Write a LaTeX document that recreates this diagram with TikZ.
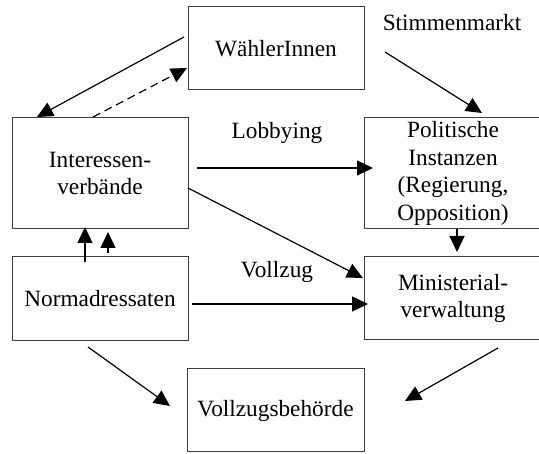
\documentclass[tikz,border=0pt]{standalone}
\usepackage{fontspec}
\setmainfont{Liberation Serif}
\usetikzlibrary{arrows.meta}
\begin{document}
\begin{tikzpicture}[x=1pt,y=-1pt,
  box/.style={draw=black!75, line width=1pt, rectangle, inner sep=0pt, align=center,
    font=\fontsize{23.3}{27.7}\selectfont},
  lbl/.style={inner sep=0pt, font=\fontsize{23.3}{27.7}\selectfont},
  arr/.style={-{Triangle[length=16pt,width=15pt]}, line width=1.2pt},
  dsh/.style={arr, dash pattern=on 8pt off 5pt}]
\useasboundingbox (0,0) rectangle (539,454);
\fill[white] (0,0) rectangle (539,454);
% boxes
\node[box, minimum width=176pt, minimum height=83pt] (wahl) at (276,48.5) {WählerInnen};
\node[box, minimum width=176pt, minimum height=111pt] (int) at (100,173.5) {Interessen-\\verbände};
\node[box, minimum width=178pt, minimum height=111pt] (pol) at (453,173.5) {Politische\\Instanzen\\(Regierung,\\Opposition)};
\node[box, minimum width=176pt, minimum height=84pt] (norm) at (100,299) {Normadressaten};
\node[box, minimum width=178pt, minimum height=83pt] (min) at (453,298.5) {Ministerial-\\verwaltung};
\node[box, minimum width=177pt, minimum height=83pt] (voll) at (275.5,410.5) {Vollzugsbehörde};
% labels
\node[lbl] (stimm) at (452,23) {Stimmenmarkt};
\node[lbl] (lobby) at (277,133) {Lobbying};
\node[lbl] (vollz) at (277,272) {Vollzug};
% free ends
\coordinate (w1) at (184,37);
\coordinate (i1) at (37,117);
\coordinate (i2) at (93,117);
\coordinate (w2) at (187,68);
\coordinate (s1) at (385,52);
\coordinate (p1) at (482,113);
\coordinate (i3) at (197,168);
\coordinate (p2) at (373,168);
\coordinate (i4) at (188,188);
\coordinate (m1) at (363,278);
\coordinate (n1) at (192,304);
\coordinate (m2) at (368,304);
\coordinate (p3) at (457,229);
\coordinate (m3) at (457,252);
\coordinate (n2) at (85,262);
\coordinate (i5) at (85,227);
\coordinate (n3) at (108,253);
\coordinate (i6) at (108,232);
\coordinate (n4) at (88,347);
\coordinate (v1) at (170,406);
\coordinate (m4) at (498,348);
\coordinate (v2) at (405,401);
% connectors
\draw[arr] (w1) -- (i1);
\draw[dsh] (i2) -- (w2);
\draw[arr] (s1) -- (p1);
\draw[arr] (i3) -- (p2);
\draw[arr] (i4) -- (m1);
\draw[arr] (n1) -- (m2);
\draw[arr] (p3) -- (m3);
\draw[arr] (n2) -- (i5);
\draw[arr] (n3) -- (i6);
\draw[arr] (n4) -- (v1);
\draw[arr] (m4) -- (v2);
\end{tikzpicture}
\end{document}
